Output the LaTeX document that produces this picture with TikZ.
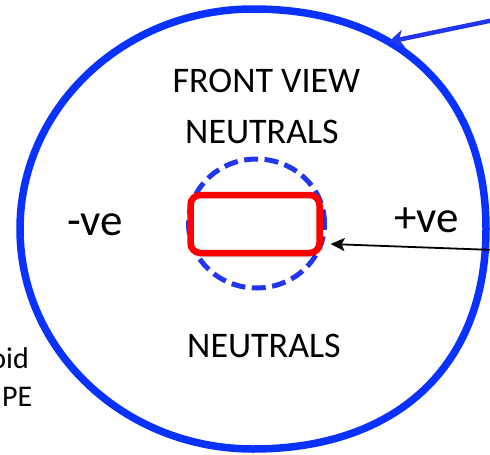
\documentclass[tikz,border=0pt]{standalone}
\usepackage{fontspec}
\setmainfont{Carlito}
\usetikzlibrary{arrows.meta, shapes.geometric, shadows.blur}
\definecolor{cblue}{HTML}{0A32FF}
\definecolor{cdash}{HTML}{2236EE}
\definecolor{cred}{HTML}{FF0000}
\tikzset{
  rim/.style={draw=cblue, line width=7.5pt},
  core/.style={ellipse, draw=cdash, line width=5pt, dash pattern=on 14pt off 6.5pt, minimum width=136pt, minimum height=129pt, inner sep=0pt},
  slot/.style={draw=cred, fill=white, line width=6.5pt, rounded corners=10pt, minimum width=129pt, minimum height=58pt, inner sep=0pt, blur shadow={shadow xshift=1.5pt, shadow yshift=-2.5pt, shadow blur radius=2.5pt, shadow opacity=45}},
  word/.style={font=\fontsize{36}{40}\selectfont, anchor=base, inner sep=0pt},
  sign/.style={font=\fontsize{45}{50}\selectfont, anchor=base, inner sep=0pt},
  cutword/.style={font=\fontsize{30}{34}\selectfont, anchor=base east, inner sep=0pt},
  pointer/.style={-{Stealth[length=15pt, width=18pt, inset=4.5pt]}, draw=cdash, line width=4.5pt},
  arrow/.style={-{Stealth[length=14pt, width=13pt, inset=3pt]}, line width=1.8pt},
}

\begin{document}
\begin{tikzpicture}[x=1pt, y=-1pt]
  \useasboundingbox (0,0) rectangle (490,455);
  \clip (0,0) rectangle (490,455);
  % outer outline
  \draw[rim] (253,9) .. controls (397.5,9) and (486,92.6) .. coordinate[pos=0.37] (rimtip) (486,229)
    .. controls (486,365.4) and (397.5,449) .. (253,449)
    .. controls (124.3,449) and (20,350.5) .. (20,229)
    .. controls (20,107.5) and (124.3,9) .. cycle;
  \node[core] (core) at (256.5,223.5) {};
  \node[slot] (slot) at (255,224) {};
  % texts
  \node[word] (front) at (266.5,92) {FRONT VIEW};
  \node[word] (topneu) at (262,143) {NEUTRALS};
  \node[word] (botneu) at (264,357) {NEUTRALS};
  \node[sign] (neg) at (95,235) {-ve};
  \node[sign] (pos) at (426.5,232) {+ve};
  \node[cutword] (cutone) at (29,368) {oid};
  \node[cutword] (cuttwo) at (32.5,406) {PE};
  % connectors
  \coordinate (bluetail) at (494,20);
  \coordinate (blacktail) at (494,250);
  \draw[pointer] (bluetail) -- (rimtip);
  \draw[arrow] (blacktail) -- ([xshift=7pt]core.-17);
\end{tikzpicture}
\end{document}
